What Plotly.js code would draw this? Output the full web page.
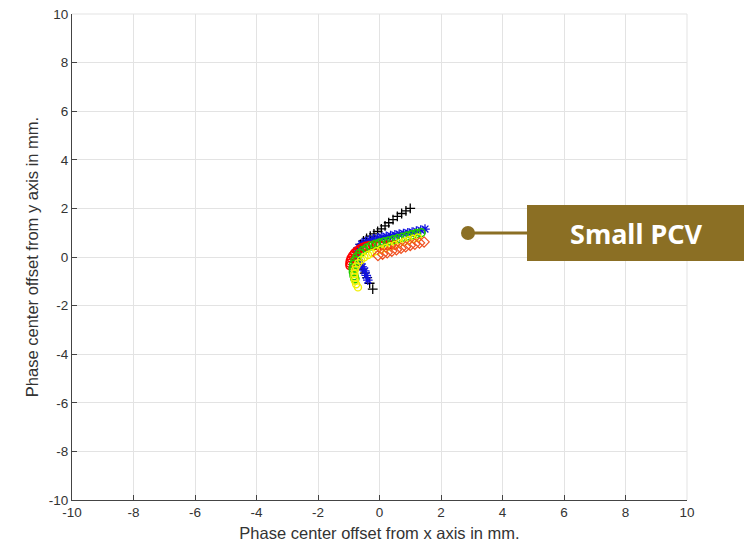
<!DOCTYPE html>
<html>
<head>
<meta charset="utf-8">
<script src="https://cdn.plot.ly/plotly-3.0.1.min.js"></script>
<style>html,body{margin:0;padding:0;background:#fff;}#chart{width:744px;height:545px;}</style>
</head>
<body>
<div id="chart"></div>
<script>
// Series (mm)
const blackX = [1.0, 0.86, 0.72, 0.58, 0.44, 0.3, 0.18, 0.06, -0.06, -0.18, -0.3, -0.42, -0.52, -0.62, -0.69, -0.74, -0.75, -0.72, -0.65, -0.56, -0.48, -0.4, -0.32, -0.22];
const blackY = [2.0, 1.9, 1.79, 1.67, 1.54, 1.41, 1.28, 1.16, 1.05, 0.95, 0.86, 0.77, 0.66, 0.52, 0.37, 0.2, 0.02, -0.16, -0.34, -0.5, -0.66, -0.85, -1.08, -1.32];

const blueX = [1.48, 1.34, 1.2, 1.06, 0.92, 0.78, 0.64, 0.5, 0.36, 0.22, 0.08, -0.06, -0.2, -0.33, -0.46, -0.58, -0.67, -0.72, -0.73, -0.7, -0.64, -0.56, -0.48, -0.43, -0.38];
const blueY = [1.15, 1.11, 1.07, 1.03, 1.0, 0.97, 0.94, 0.91, 0.88, 0.85, 0.82, 0.79, 0.75, 0.7, 0.63, 0.53, 0.4, 0.25, 0.08, -0.1, -0.26, -0.41, -0.57, -0.76, -0.95];

const redX = [0.5, 0.38, 0.26, 0.14, 0.02, -0.1, -0.22, -0.34, -0.45, -0.55, -0.64, -0.73, -0.81, -0.87, -0.92, -0.95, -0.96, -0.96];
const redY = [0.5, 0.49, 0.49, 0.48, 0.48, 0.48, 0.48, 0.47, 0.44, 0.39, 0.33, 0.25, 0.16, 0.06, -0.05, -0.16, -0.26, -0.35];

const greenX = [1.35, 1.2, 1.05, 0.9, 0.75, 0.6, 0.45, 0.3, 0.15, 0.0, -0.14, -0.28, -0.41, -0.53, -0.64, -0.73, -0.8, -0.84, -0.86, -0.85, -0.83, -0.8];
const greenY = [1.0, 0.96, 0.91, 0.86, 0.81, 0.76, 0.71, 0.66, 0.62, 0.57, 0.52, 0.45, 0.37, 0.27, 0.15, 0.01, -0.15, -0.31, -0.47, -0.62, -0.77, -0.9];

const yellowX = [1.25, 1.1, 0.95, 0.8, 0.65, 0.5, 0.35, 0.2, 0.05, -0.1, -0.24, -0.37, -0.49, -0.6, -0.69, -0.76, -0.8, -0.82, -0.82, -0.8, -0.76, -0.7];
const yellowY = [0.8, 0.75, 0.69, 0.63, 0.57, 0.5, 0.44, 0.37, 0.31, 0.24, 0.16, 0.08, -0.01, -0.12, -0.25, -0.39, -0.54, -0.69, -0.84, -0.98, -1.12, -1.25];

const orangeX = [1.45, 1.3, 1.15, 1.0, 0.85, 0.7, 0.55, 0.4, 0.25, 0.1, -0.05];
const orangeY = [0.62, 0.58, 0.53, 0.48, 0.42, 0.36, 0.3, 0.24, 0.18, 0.12, 0.06];

const tickVals = [-10, -8, -6, -4, -2, 0, 2, 4, 6, 8, 10];
const tickText = ['-10', '-8', '-6', '-4', '-2', '0', '2', '4', '6', '8', '10'];
const xTitle = 'Phase center offset from x axis in mm.';
const yTitle = 'Phase center offset from y axis in mm.';
const calloutText = 'Small PCV';

function tr(x, y, color, symbol, size, lw) {
  return {x: x, y: y, type: 'scatter', mode: 'markers',
    marker: {color: color, symbol: symbol, size: size, line: {color: color, width: lw}},
    showlegend: false, hoverinfo: 'skip'};
}
const data = [
  tr(blackX, blackY, '#000000', 'cross-thin-open', 7, 1.3),
  tr(blueX, blueY, '#1010e0', 'asterisk-open', 8, 1.3),
  tr(redX, redY, '#ff0000', 'circle-open', 8, 1.6),
  tr(greenX, greenY, '#22cc00', 'circle-open', 8, 1.6),
  tr(yellowX, yellowY, '#f2f000', 'circle-open', 7, 1.4),
  tr(orangeX, orangeY, '#f05020', 'diamond-open', 8, 1.2)
];

// pixel -> paper helpers for the callout (plot area 72..687 x 14..500)
const L = 72, R = 687, T = 14, B = 500;
const px = v => (v - L) / (R - L);
const py = v => (B - v) / (B - T);
const brown = '#8b6f24';
const font = 'Liberation Sans, Arial, sans-serif';

const axisCommon = {
  range: [-10, 10], tickvals: tickVals, ticktext: tickText, ticks: 'inside', ticklen: 5, tickcolor: '#444',
  showline: true, linecolor: '#444', linewidth: 1, mirror: false,
  showgrid: true, gridcolor: '#e3e3e3', gridwidth: 1, zeroline: false,
  tickfont: {family: font, size: 13.5, color: '#333'},
  fixedrange: true
};
const layout = {
  width: 744, height: 545,
  margin: {l: L, r: 744 - R, t: T, b: 545 - B},
  paper_bgcolor: '#ffffff', plot_bgcolor: '#ffffff',
  xaxis: Object.assign({}, axisCommon, {title: {text: xTitle, standoff: 8, font: {family: font, size: 16.5, color: '#333'}}}),
  yaxis: Object.assign({}, axisCommon, {title: {text: yTitle, standoff: 6, font: {family: font, size: 16.5, color: '#333'}}}),
  shapes: [
    {type: 'line', xref: 'paper', yref: 'paper', x0: 0, x1: 1, y0: 1, y1: 1, line: {color: '#e3e3e3', width: 1}, layer: 'below'},
    {type: 'line', xref: 'paper', yref: 'paper', x0: 1, x1: 1, y0: 0, y1: 1, line: {color: '#e3e3e3', width: 1}, layer: 'below'},
    {type: 'rect', xref: 'paper', yref: 'paper', x0: px(527), x1: px(745), y0: py(261), y1: py(205), fillcolor: brown, line: {width: 0}, layer: 'above'},
    {type: 'line', xref: 'paper', yref: 'paper', x0: px(470), x1: px(527), y0: py(233), y1: py(233), line: {color: brown, width: 3}, layer: 'above'},
    {type: 'circle', xref: 'paper', yref: 'paper', x0: px(461), x1: px(475), y0: py(240), y1: py(226), fillcolor: brown, line: {width: 0}, layer: 'above'}
  ],
  annotations: [
    {xref: 'paper', yref: 'paper', x: px(636), y: py(233), text: '<b>' + calloutText + '</b>', showarrow: false,
     xanchor: 'center', yanchor: 'middle', font: {family: 'Noto Sans, sans-serif', size: 27, color: '#ffffff'}}
  ]
};
Plotly.newPlot('chart', data, layout, {staticPlot: true, displayModeBar: false});
</script>
</body>
</html>
